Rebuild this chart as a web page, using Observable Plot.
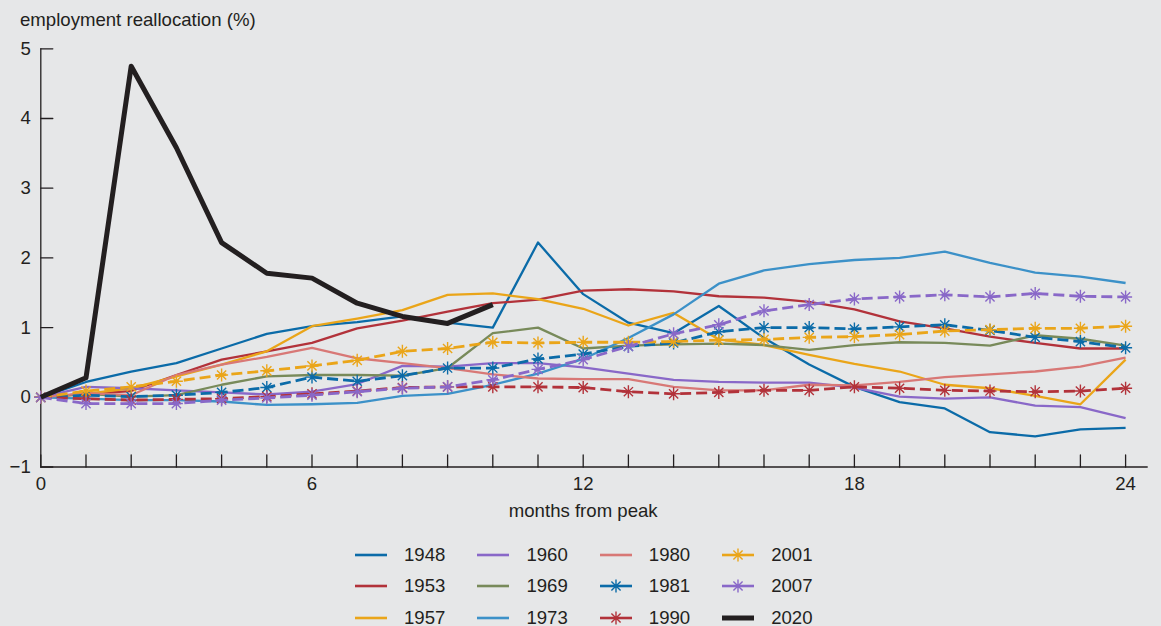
<!DOCTYPE html>
<html><head><meta charset="utf-8">
<script src="https://cdn.jsdelivr.net/npm/d3@7"></script>
<script src="https://cdn.jsdelivr.net/npm/@observablehq/plot@0.6"></script>
<style>
html,body{margin:0;padding:0;background:#E6E7E8;}
body{width:1161px;height:626px;position:relative;overflow:hidden;font-family:"Liberation Sans",Arial,Helvetica,sans-serif;color:#231F20;}
#title{position:absolute;left:20px;top:0;font-size:18.6px;line-height:20px;padding-top:10px;white-space:nowrap;}
#chart{position:absolute;left:0;top:40px;}
.leg{position:absolute;font-size:18.6px;line-height:20px;height:20px;display:flex;align-items:center;white-space:nowrap;}
.leg svg{display:block;margin-right:17px;}
</style></head><body>
<div id="title">employment reallocation (%)</div>
<div id="chart"></div>
<div id="legend"></div>
<script>
// ---- data ----
const titleText = "employment reallocation (%)";
const xLabelText = "months from peak";
const months = [0,1,2,3,4,5,6,7,8,9,10,11,12,13,14,15,16,17,18,19,20,21,22,23,24];
const yTicks = [-1,0,1,2,3,4,5];
const xTickLabels = [0,6,12,18,24];

const series = ["1948","1953","1957","1960","1969","1973","1980","1981","1990","2001","2007","2020"];

const v1948 = [0,0.22,0.37,0.49,0.70,0.91,1.02,1.08,1.16,1.07,1.00,2.22,1.48,1.07,0.92,1.31,0.85,0.47,0.15,-0.07,-0.16,-0.50,-0.56,-0.46,-0.44];
const v1953 = [0,0.05,0.09,0.32,0.54,0.66,0.78,0.99,1.10,1.23,1.35,1.40,1.53,1.55,1.52,1.45,1.43,1.37,1.26,1.09,0.99,0.87,0.78,0.70,0.70];
const v1957 = [0,0.05,0.13,0.30,0.47,0.66,1.02,1.13,1.25,1.47,1.49,1.41,1.27,1.03,1.21,0.83,0.75,0.61,0.48,0.37,0.18,0.13,0.02,-0.10,0.54];
const v1960 = [0,0.15,0.13,0.10,0.07,0.04,0.08,0.19,0.45,0.44,0.49,0.49,0.43,0.34,0.25,0.22,0.21,0.21,0.14,0.01,-0.02,0.00,-0.12,-0.14,-0.30];
const v1969 = [0,0.05,0.01,0.03,0.18,0.30,0.32,0.32,0.31,0.42,0.92,1.00,0.70,0.74,0.76,0.77,0.75,0.68,0.75,0.79,0.78,0.74,0.89,0.84,0.74];
const v1973 = [0,-0.02,-0.04,-0.04,-0.06,-0.11,-0.10,-0.08,0.02,0.05,0.18,0.34,0.55,0.85,1.19,1.63,1.82,1.91,1.97,2.00,2.09,1.93,1.79,1.73,1.64];
const v1980 = [0,0.06,0.03,0.32,0.47,0.58,0.71,0.56,0.49,0.42,0.33,0.27,0.26,0.26,0.15,0.10,0.10,0.18,0.17,0.22,0.29,0.33,0.37,0.44,0.57];
const v1981 = [0,0.03,0.01,0.03,0.07,0.14,0.29,0.23,0.31,0.42,0.42,0.55,0.62,0.73,0.78,0.94,1.00,1.00,0.98,1.01,1.04,0.96,0.86,0.80,0.71];
const v1990 = [0,-0.02,-0.04,-0.03,-0.02,0.01,0.05,0.09,0.14,0.15,0.15,0.15,0.14,0.08,0.05,0.07,0.10,0.10,0.15,0.13,0.10,0.09,0.08,0.09,0.13];
const v2001 = [0,0.09,0.15,0.23,0.32,0.38,0.45,0.53,0.66,0.70,0.79,0.78,0.79,0.79,0.80,0.82,0.83,0.86,0.87,0.90,0.95,0.97,0.99,0.99,1.02];
const v2007 = [0,-0.09,-0.09,-0.09,-0.04,-0.01,0.03,0.08,0.13,0.15,0.25,0.40,0.54,0.73,0.91,1.04,1.24,1.33,1.41,1.44,1.47,1.44,1.49,1.45,1.44];
const v2020 = [0,0.28,4.75,3.58,2.22,1.78,1.71,1.35,1.16,1.06,1.33];

const values = [v1948,v1953,v1957,v1960,v1969,v1973,v1980,v1981,v1990,v2001,v2007,v2020];

// ---- styles (kept separate from data) ----
const colors = ["#0B6BA8","#B2323A","#EAA519","#8968C8","#788A5A","#3C91C8","#D87876","#0B6BA8","#B2323A","#EAA519","#8968C8","#231F20"];
const dashed = [false,false,false,false,false,false,false,true,true,true,true,false];
const markers = [false,false,false,false,false,false,false,true,true,true,true,false];
const widths = [2.3,2.3,2.3,2.3,2.3,2.3,2.3,2.8,2.8,2.8,2.8,5];
const ink = "#231F20";
const fontPx = 18.6;

// long table
const table = [];
series.forEach((s, si) => values[si].forEach((v, i) => table.push({series: s, month: months[i], value: v})));

const asterisk8 = {
  draw(ctx, size) {
    const r = Math.sqrt(size / Math.PI);
    const d = r * Math.SQRT1_2;
    ctx.moveTo(-r, 0); ctx.lineTo(r, 0);
    ctx.moveTo(0, -r); ctx.lineTo(0, r);
    ctx.moveTo(-d, -d); ctx.lineTo(d, d);
    ctx.moveTo(-d, d); ctx.lineTo(d, -d);
  }
};
const tickShape = {draw(ctx, l) { ctx.moveTo(0, 0); ctx.lineTo(0, -l); }};

const marks = [
  Plot.ruleX([0], {y1: d3.min(yTicks), y2: d3.max(yTicks), stroke: ink, strokeWidth: 1.3}),
  Plot.ruleY([d3.min(yTicks)], {x1: 0, x2: 24.5, stroke: ink, strokeWidth: 1.3}),
  Plot.vector(yTicks, {x: 0, y: d => d, length: 12, rotate: 90, anchor: "start", shape: tickShape, stroke: ink, strokeWidth: 1.3}),
  Plot.vector(months, {x: d => d, y: d3.min(yTicks), length: 12, rotate: 0, anchor: "start", shape: tickShape, stroke: ink, strokeWidth: 1.3}),
  Plot.text(yTicks, {x: 0, y: d => d, text: d => d < 0 ? "\u2212" + (-d) : String(d), textAnchor: "end", dx: -10, fontSize: fontPx, fill: ink}),
  Plot.text(xTickLabels, {x: d => d, y: d3.min(yTicks), text: d => String(d), lineAnchor: "top", dy: 10, fontSize: fontPx, fill: ink}),
  Plot.text([xLabelText], {x: d3.median(xTickLabels), y: d3.min(yTicks), text: d => d, lineAnchor: "top", dy: 37, fontSize: fontPx, fill: ink})
];

series.forEach((s, si) => {
  const rows = table.filter(d => d.series === s);
  marks.push(Plot.line(rows, {x: "month", y: "value", stroke: colors[si], strokeWidth: widths[si],
    strokeDasharray: dashed[si] ? "11,5" : null, strokeLinejoin: "round", strokeLinecap: "butt"}));
  if (markers[si]) {
    marks.push(Plot.dot(rows, {x: "month", y: "value", symbol: asterisk8, r: 6.5, stroke: colors[si], strokeWidth: 1.4, fill: "none"}));
  }
});

const chart = Plot.plot({
  width: 1161, height: 490,
  marginLeft: 40.3, marginRight: 13.3, marginTop: 8.3, marginBottom: 63.5,
  x: {domain: [0, 24.5], axis: null},
  y: {domain: [d3.min(yTicks), d3.max(yTicks)], axis: null},
  style: {background: "transparent", fontFamily: "'Liberation Sans', Arial, Helvetica, sans-serif", fontSize: fontPx + "px", color: ink, overflow: "visible"},
  marks
});
document.getElementById("chart").appendChild(chart);
document.getElementById("title").textContent = titleText;

// ---- legend (3 rows x 4 columns, column-major) ----
const legend = document.getElementById("legend");
const rowCenters = [554.5, 586, 617.5];
series.forEach((s, si) => {
  const col = Math.floor(si / 3), row = si % 3;
  const item = document.createElement("div");
  item.className = "leg";
  item.style.left = (355 + col * 122.4) + "px";
  item.style.top = (rowCenters[row] - 10) + "px";
  const ns = "http://www.w3.org/2000/svg";
  const svg = document.createElementNS(ns, "svg");
  svg.setAttribute("width", 32); svg.setAttribute("height", 20);
  const line = document.createElementNS(ns, "line");
  line.setAttribute("x1", 0); line.setAttribute("x2", 32);
  line.setAttribute("y1", 10); line.setAttribute("y2", 10);
  line.setAttribute("stroke", colors[si]);
  line.setAttribute("stroke-width", si === 11 ? 5 : 2.6);
  svg.appendChild(line);
  if (markers[si]) {
    const p = document.createElementNS(ns, "path");
    const ctx = d3.path();
    asterisk8.draw(ctx, Math.PI * 6.5 * 6.5);
    p.setAttribute("d", ctx.toString());
    p.setAttribute("transform", "translate(16,10)");
    p.setAttribute("stroke", colors[si]);
    p.setAttribute("stroke-width", 1.4);
    p.setAttribute("fill", "none");
    svg.appendChild(p);
  }
  item.appendChild(svg);
  const label = document.createElement("span");
  label.textContent = s;
  item.appendChild(label);
  legend.appendChild(item);
});
</script></body></html>
